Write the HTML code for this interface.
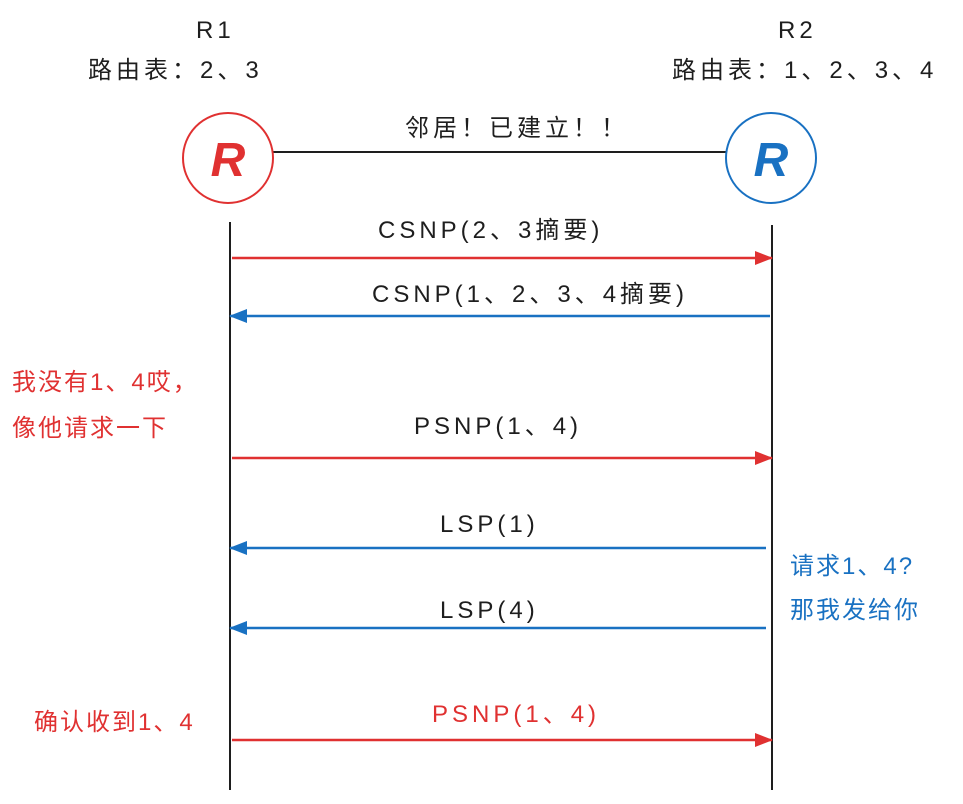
<!DOCTYPE html>
<html><head><meta charset="utf-8"><style>
html,body{margin:0;padding:0;background:#fff;}
body{width:963px;height:804px;position:relative;overflow:hidden;font-family:"Liberation Sans","Noto Sans CJK SC",sans-serif;}
.t{position:absolute;font-size:24px;white-space:nowrap;color:#1e1e1e;line-height:30px;letter-spacing:4px;}
.r{color:#e03131;letter-spacing:2px}.b{color:#1971c2;letter-spacing:2px}
</style></head><body>
<svg width="963" height="804" style="position:absolute;left:0;top:0">
<defs>
<marker id="ar" markerWidth="18" markerHeight="14" refX="17" refY="7" orient="auto" markerUnits="userSpaceOnUse"><path d="M0,0 L18,7 L0,14 z" fill="#e03131"/></marker>
<marker id="ab" markerWidth="18" markerHeight="14" refX="17" refY="7" orient="auto" markerUnits="userSpaceOnUse"><path d="M0,0 L18,7 L0,14 z" fill="#1971c2"/></marker>
</defs>
<line x1="272" y1="152" x2="726" y2="152" stroke="#1e1e1e" stroke-width="2"/>
<circle cx="228" cy="158" r="45" fill="none" stroke="#e03131" stroke-width="2"/>
<circle cx="771" cy="158" r="45" fill="none" stroke="#1971c2" stroke-width="2"/>
<text x="228" y="176" text-anchor="middle" font-size="48" font-weight="bold" font-style="italic" fill="#e03131" font-family="Liberation Sans">R</text>
<text x="771" y="176" text-anchor="middle" font-size="48" font-weight="bold" font-style="italic" fill="#1971c2" font-family="Liberation Sans">R</text>
<line x1="230" y1="222" x2="230" y2="790" stroke="#1e1e1e" stroke-width="2"/>
<line x1="772" y1="225" x2="772" y2="790" stroke="#1e1e1e" stroke-width="2"/>
<g stroke-width="2.5">
<line x1="232" y1="258" x2="772" y2="258" stroke="#e03131" marker-end="url(#ar)"/>
<line x1="770" y1="316" x2="230" y2="316" stroke="#1971c2" marker-end="url(#ab)"/>
<line x1="232" y1="458" x2="772" y2="458" stroke="#e03131" marker-end="url(#ar)"/>
<line x1="766" y1="548" x2="230" y2="548" stroke="#1971c2" marker-end="url(#ab)"/>
<line x1="766" y1="628" x2="230" y2="628" stroke="#1971c2" marker-end="url(#ab)"/>
<line x1="232" y1="740" x2="772" y2="740" stroke="#e03131" marker-end="url(#ar)"/>
</g>
</svg>
<div class="t" style="left:196px;top:16px">R1</div>
<div class="t" style="left:88px;top:56px">路由表：2、3</div>
<div class="t" style="left:778px;top:16px">R2</div>
<div class="t" style="left:672px;top:56px">路由表：1、2、3、4</div>
<div class="t" style="left:405px;top:114px">邻居！已建立！！</div>
<div class="t" style="left:378px;top:216px">CSNP(2、3摘要)</div>
<div class="t" style="left:372px;top:280px">CSNP(1、2、3、4摘要)</div>
<div class="t r" style="left:12px;top:368px">我没有1、4哎，</div>
<div class="t r" style="left:12px;top:414px">像他请求一下</div>
<div class="t" style="left:414px;top:412px">PSNP(1、4)</div>
<div class="t" style="left:440px;top:510px">LSP(1)</div>
<div class="t b" style="left:790px;top:552px">请求1、4?</div>
<div class="t b" style="left:790px;top:596px">那我发给你</div>
<div class="t" style="left:440px;top:596px">LSP(4)</div>
<div class="t r" style="left:34px;top:708px">确认收到1、4</div>
<div class="t r" style="left:432px;top:700px;letter-spacing:4px">PSNP(1、4)</div>
</body></html>
